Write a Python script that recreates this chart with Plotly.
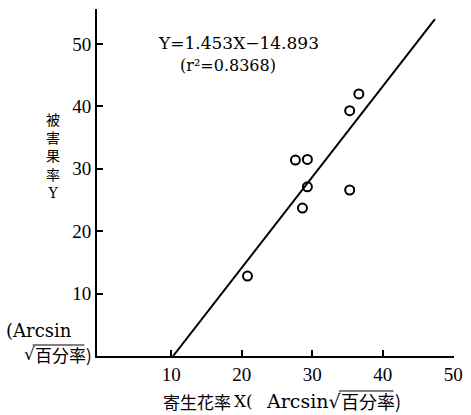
import plotly.graph_objects as go

# Parasitized flower rate X vs. damaged fruit rate Y (arcsin sqrt transformed)
x_vals = [20.8, 27.6, 28.6, 29.3, 29.3, 35.3, 35.3, 36.6]
y_vals = [12.8, 31.4, 23.7, 27.1, 31.5, 26.6, 39.3, 42.0]

slope = 1.453
intercept = -14.893
r2 = 0.8368
line_x = [(0 - intercept) / slope, 47.4]
line_y = [slope * v + intercept for v in line_x]

x_ticks = [10, 20, 30, 40, 50]
y_ticks = [10, 20, 30, 40, 50]

W, H = 471, 415
ML, MR, MT, MB = 97, 8, 9, 59
PW, PH = W - ML - MR, H - MT - MB

def px(xp):
    return (xp - ML) / PW

def py(yp):
    return (H - MB - yp) / PH

SERIF = "DejaVu Serif, Liberation Serif, serif"
TICK = "Liberation Serif, DejaVu Serif, serif"
CJK = "Noto Sans CJK JP, sans-serif"
MIXED = "DejaVu Serif, Noto Sans CJK JP, serif"

fig = go.Figure()
fig.add_trace(go.Scatter(x=line_x, y=line_y, mode="lines",
                         line=dict(color="black", width=2), showlegend=False))
fig.add_trace(go.Scatter(x=x_vals, y=y_vals, mode="markers",
                         marker=dict(symbol="circle-open", size=9, color="black",
                                     line=dict(width=2, color="black")),
                         showlegend=False))

ann = []
def label(text, xp, yp, size=17, xanchor="left", font=SERIF, align="left"):
    ann.append(dict(text=text, x=px(xp), y=py(yp), xref="paper", yref="paper",
                    showarrow=False, xanchor=xanchor, yanchor="middle",
                    borderpad=0, align=align,
                    font=dict(family=font, size=size, color="black")))

# regression equation
label("Y=1.453X\u221214.893", 158, 43, size=17)
label(f"(r\u00b2={r2})", 181, 65, size=16)

# y axis title, stacked vertically
label("被<br>害<br>果<br>率<br>Y", 52, 156, size=14, xanchor="center",
      font=MIXED, align="center")

# unit note at the origin
label("(Arcsin", 3, 330, size=18)
label("\u221a", 34, 354, size=17, xanchor="right")
label("百分率)", 32, 354, size=17, font=CJK)

# x axis title
label("寄生花率", 164, 401, size=17, font=CJK)
label("X(", 236, 401, size=17)
label("Arcsin\u221a", 349, 401, size=19, xanchor="right")
label("百分率)", 346, 401, size=18, font=CJK)

shapes = [
    dict(type="line", xref="paper", yref="paper", x0=px(31), x1=px(84),
         y0=py(345), y1=py(345), line=dict(color="black", width=1.2)),
    dict(type="line", xref="paper", yref="paper", x0=px(345), x1=px(401),
         y0=py(391), y1=py(391), line=dict(color="black", width=1.2)),
]

axis_common = dict(ticks="inside", ticklen=6, tickwidth=1.5, tickcolor="black",
                   showline=True, linecolor="black", linewidth=2, showgrid=False,
                   zeroline=False, ticklabeloverflow="allow",
                   tickfont=dict(family=TICK, size=19, color="black"))

fig.update_layout(
    width=W, height=H, margin=dict(l=ML, r=MR, t=MT, b=MB),
    paper_bgcolor="white", plot_bgcolor="white",
    annotations=ann, shapes=shapes,
    xaxis=dict(range=[-0.55, 50.1], tickvals=x_ticks, **axis_common),
    yaxis=dict(range=[0, 55.6], tickvals=y_ticks, **axis_common),
)

fig.write_html("out.html")
